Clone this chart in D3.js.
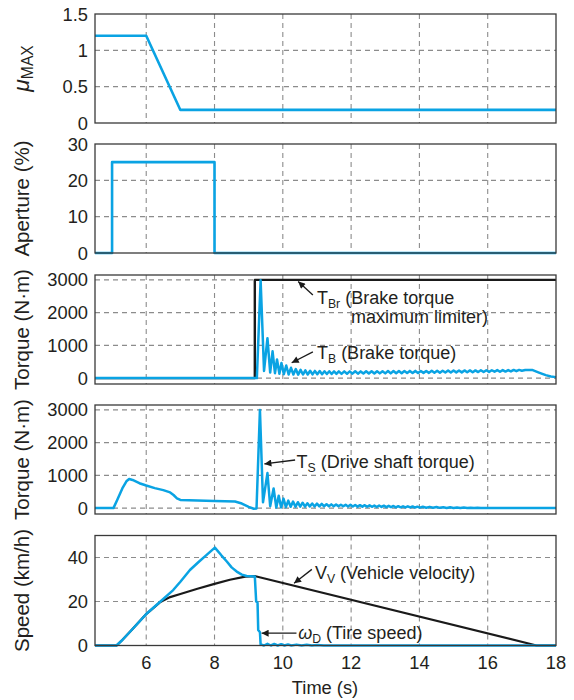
<!DOCTYPE html>
<html>
<head>
<meta charset="utf-8">
<script src="https://cdn.jsdelivr.net/npm/d3@7"></script>
<style>
body { margin: 0; background: #fff; }
text { font-family: "Liberation Sans", Arial, sans-serif; fill: #231f20; }
</style>
</head>
<body>
<svg id="chart" width="574" height="700"></svg>
<script>
// ---- data ----
var timeTicks = [6, 8, 10, 12, 14, 16, 18]
var timeGrid = [6, 8, 10, 12, 14, 16]

var muTicks = [0, 0.5, 1, 1.5]
var apTicks = [0, 10, 20, 30]
var torqueTicks = [0, 1000, 2000, 3000]
var speedTicks = [0, 20, 40]

// mu max
var muPts = [[4.5, 1.2], [6, 1.2], [7, 0.18], [18, 0.18]]

// aperture (%)
var aperturePts = [[4.5, 0], [5, 0], [5, 25], [8, 25], [8, 0], [18, 0]]

// brake torque maximum limiter
var tbrPts = [[4.5, 0], [9.18, 0], [9.18, 3000], [18, 3000]]

// brake torque
var tbPts = [[4.5,0],[9.24,0],[9.35,2990],[9.45,220],[9.55,1220],[9.63,170],[9.7,820],[9.77,150],[9.83,570],[9.9,130],
	[9.96,460],[10.03,120],[10.1,385],[10.17,110],[10.24,315],[10.31,110],[10.38,275],[10.45,105],[10.52,250],[10.59,110],
	[10.66,235],[10.73,110],[10.8,225],[10.87,115],[10.94,220],[11.01,120],[11.08,215],[11.15,120],[11.22,210],[11.29,125],
	[11.36,210],[11.43,125],[11.5,205],[11.57,130],[11.64,205],[11.72,130],[11.8,205],[11.88,135],[11.96,205],[12.04,135],
	[12.12,210],[12.2,135],[12.28,205],[12.36,140],[12.44,210],[12.52,140],[12.6,210],[12.68,140],[12.76,210],[12.84,145],
	[12.92,210],[13.0,145],[13.08,215],[13.16,145],[13.24,215],[13.32,150],[13.4,215],[13.48,150],[13.56,215],[13.64,155],
	[13.72,220],[13.8,155],[13.88,220],[13.96,155],[14.04,220],[14.12,160],[14.2,220],[14.28,160],[14.36,225],[14.44,165],
	[14.52,225],[14.6,165],[14.68,225],[14.76,170],[14.84,230],[14.92,170],[15.0,230],[15.08,175],[15.16,230],[15.24,175],
	[15.32,235],[15.4,180],[15.48,235],[15.56,180],[15.64,235],[15.72,185],[15.8,240],[15.88,185],[15.96,240],[16.04,190],
	[16.12,240],[16.2,195],[16.28,245],[16.36,195],[16.44,245],[16.52,200],[16.6,245],[16.68,205],[16.76,250],[16.84,210],
	[16.92,250],[17.0,225],[17.1,250],[17.3,250],[17.5,170],[17.7,90],[17.85,50],[18,30]]

// drive shaft torque
var tsPts = [[4.5,0],[5.04,0],[5.15,250],[5.3,600],[5.42,820],[5.5,890],[5.6,860],[5.8,760],[6.0,690],[6.25,610],
	[6.5,550],[6.7,480],[6.8,400],[6.9,300],[7.0,250],[7.5,235],[8.0,215],[8.6,200],[8.8,140],[9.0,40],[9.15,-20],[9.23,-10],
	[9.33,3000],[9.42,180],[9.55,1070],[9.63,60],[9.73,600],[9.81,20],[9.88,380],[9.95,20],[10.02,290],[10.09,30],
	[10.16,230],[10.23,40],[10.3,200],[10.37,40],[10.44,180],[10.51,45],[10.58,165],[10.65,45],[10.72,150],[10.79,50],
	[10.86,140],[10.93,50],[11.0,135],[11.07,55],[11.14,130],[11.21,55],[11.28,120],[11.35,55],[11.42,115],[11.49,55],
	[11.56,110],[11.63,55],[11.7,105],[11.77,55],[11.84,100],[11.91,50],[11.98,100],[12.05,50],[12.12,95],[12.19,45],
	[12.26,90],[12.33,45],[12.4,90],[12.47,40],[12.54,85],[12.61,40],[12.68,80],[12.75,35],[12.82,80],[12.89,35],
	[12.96,75],[13.03,30],[13.1,70],[13.17,30],[13.24,65],[13.31,25],[13.38,60],[13.45,25],[13.52,55],[13.59,20],
	[13.66,55],[13.73,20],[13.8,50],[13.87,15],[13.94,45],[14.01,15],[14.1,40],[14.2,12],[14.3,38],[14.4,10],
	[14.5,32],[14.6,8],[14.7,28],[14.8,6],[14.9,24],[15.0,5],[15.1,20],[15.2,4],[15.3,16],[15.4,3],
	[15.5,12],[15.6,2],[15.7,8],[15.8,1],[15.95,0],[18,0]]

// vehicle velocity
var vvPts = [[4.5,0],[5.13,0],[5.3,2.5],[5.6,7.5],[6.0,14.3],[6.4,19.6],[6.7,22],[7.0,23.4],[7.5,25.8],[8.0,28],
	[8.45,29.9],[8.9,31.3],[9.2,31.5],[17.43,0],[18,0]]

// tire speed
var wdPts = [[4.5,0],[5.13,0],[5.3,2.5],[5.6,7.5],[6.0,14.3],[6.4,19.8],[6.79,25.2],[7.0,29],[7.28,34.3],[7.55,38.2],
	[7.77,41.2],[8.01,44.5],[8.2,41],[8.36,38.2],[8.5,35.5],[8.65,33.6],[8.8,32.2],[8.94,31.6],[9.18,31.4],[9.22,20],
	[9.26,19.5],[9.28,7],[9.33,6],[9.35,0.5],[9.45,0],[9.55,0.8],[9.65,0],[9.75,0.7],[9.85,0],[9.95,0.6],[10.05,0],
	[10.15,0.5],[10.25,0],[10.4,0.4],[10.55,0],[10.7,0.3],[10.85,0],[11.0,0.2],[11.2,0],[18,0]]

// ---- layout ----
var blue = "#0aa3e3", dark = "#1a1a1a"
var fontSize = 18.3, titleSize = 20.5
var svg = d3.select("#chart")

var x = d3.scaleLinear().domain([4.5, 18]).range([95, 556])

var panels = [
	{ top: 14, bottom: 123, dom: [0, 1.5], ticks: muTicks, grid: [0.5, 1], fmt: d3.format("~g") },
	{ top: 144, bottom: 253, dom: [0, 30], ticks: apTicks, grid: [10, 20], fmt: d3.format("d") },
	{ top: 275, bottom: 384, dom: [-180, 3150], ticks: torqueTicks, grid: torqueTicks, fmt: d3.format("d") },
	{ top: 405, bottom: 514, dom: [-180, 3150], ticks: torqueTicks, grid: torqueTicks, fmt: d3.format("d") },
	{ top: 535.5, bottom: 645.5, dom: [0, 50], ticks: speedTicks, grid: [20, 40], fmt: d3.format("d") }
]
panels.forEach(p => { p.y = d3.scaleLinear().domain(p.dom).range([p.bottom, p.top]) })

svg.append("defs").append("marker")
	.attr("id", "arrow")
	.attr("viewBox", "0 0 10 10")
	.attr("refX", 10).attr("refY", 5)
	.attr("markerUnits", "userSpaceOnUse")
	.attr("markerWidth", 11).attr("markerHeight", 7)
	.attr("orient", "auto")
	.append("path").attr("d", "M0,0L10,5L0,10Z").attr("fill", dark)

var drawPanel = (p) => {
	var g = svg.append("g")
	// grid
	g.selectAll(".vg").data(timeGrid).enter().append("line")
		.attr("x1", d => x(d)).attr("x2", d => x(d))
		.attr("y1", p.top).attr("y2", p.bottom)
		.attr("stroke", "#8c8c8c").attr("stroke-width", 1.1).attr("stroke-dasharray", "5,4")
	g.selectAll(".hg").data(p.grid).enter().append("line")
		.attr("x1", x.range()[0]).attr("x2", x.range()[1])
		.attr("y1", d => p.y(d)).attr("y2", d => p.y(d))
		.attr("stroke", "#8c8c8c").attr("stroke-width", 1.1).attr("stroke-dasharray", "5,4")
	// y tick labels
	g.selectAll(".yt").data(p.ticks).enter().append("text")
		.attr("x", 88).attr("y", d => p.y(d)).attr("dy", "0.36em")
		.attr("text-anchor", "end").style("font-size", fontSize + "px")
		.text(p.fmt)
}

var drawFrame = (p) => {
	svg.append("rect")
		.attr("x", x.range()[0]).attr("y", p.top)
		.attr("width", x.range()[1] - x.range()[0]).attr("height", p.bottom - p.top)
		.attr("fill", "none").attr("stroke", "#3a3a3a").attr("stroke-width", 1.3)
}

var drawLine = (p, pts, color, w) => {
	var line = d3.line().x(d => x(d[0])).y(d => p.y(d[1]))
	svg.append("path").datum(pts)
		.attr("d", line).attr("fill", "none")
		.attr("stroke", color).attr("stroke-width", w)
		.attr("stroke-linejoin", "round")
}

panels.forEach(drawPanel)

drawLine(panels[0], muPts, blue, 2.6)
drawLine(panels[1], aperturePts, blue, 2.6)
drawLine(panels[2], tbrPts, dark, 2.4)
drawLine(panels[2], tbPts, blue, 2.5)
drawLine(panels[3], tsPts, blue, 2.5)
drawLine(panels[4], vvPts, dark, 2.2)
drawLine(panels[4], wdPts, blue, 2.5)

panels.forEach(drawFrame)

// x tick labels
svg.selectAll(".xt").data(timeTicks).enter().append("text")
	.attr("x", d => x(d)).attr("y", 662).attr("dy", "0.36em")
	.attr("text-anchor", "middle").style("font-size", fontSize + "px")
	.text(d => d)

svg.append("text")
	.attr("x", 325).attr("y", 687).attr("dy", "0.36em")
	.attr("text-anchor", "middle").style("font-size", fontSize + "px")
	.text("Time (s)")

// y axis titles
var yTitles = [
	[{ t: "\u03bc", italic: true }, { t: "MAX", sub: true }],
	[{ t: "Aperture (%)" }],
	[{ t: "Torque (N\u00b7m)" }],
	[{ t: "Torque (N\u00b7m)" }],
	[{ t: "Speed (km/h)" }]
]

var richText = (sel, parts, size) => {
	var shift = 0
	parts.forEach(pt => {
		var ts = sel.append("tspan").text(pt.t)
		var want = pt.sub ? 4 : 0
		ts.attr("dy", want - shift)
		shift = want
		ts.style("font-size", pt.sub ? (size * 0.68) + "px" : size + "px")
		if (pt.italic) ts.style("font-style", "italic")
	})
	return sel
}

panels.forEach((p, i) => {
	var cy = (p.top + p.bottom) / 2
	var t = svg.append("text")
		.attr("transform", "translate(22," + cy + ") rotate(-90)")
		.attr("text-anchor", "middle").attr("y", 7)
	richText(t, yTitles[i], i == 0 ? 23 : titleSize)
})

// annotations: [panel, tip t, tip v, tail t, tail v]
var arrows = [
	[2, 10.45, 2950, 10.88, 2540],
	[2, 10.26, 470, 10.88, 800],
	[3, 9.46, 1350, 10.36, 1470],
	[4, 10.33, 28.3, 10.85, 34.6],
	[4, 9.38, 5.6, 10.4, 5.6]
]
// labels: [panel, t, v, parts]
var labels = [
	[2, 11.0, 2450, [{ t: "T" }, { t: "Br", sub: true }, { t: " (Brake torque" }]],
	[2, 12.0, 1880, [{ t: "maximum limiter)" }]],
	[2, 11.0, 780, [{ t: "T" }, { t: "B", sub: true }, { t: " (Brake torque)" }]],
	[3, 10.4, 1420, [{ t: "T" }, { t: "S", sub: true }, { t: " (Drive shaft torque)" }]],
	[4, 10.94, 32.8, [{ t: "V" }, { t: "V", sub: true }, { t: " (Vehicle velocity)" }]],
	[4, 10.45, 5.5, [{ t: "\u03c9", italic: true }, { t: "D", sub: true }, { t: " (Tire speed)" }]]
]

arrows.forEach(a => {
	var p = panels[a[0]]
	svg.append("line")
		.attr("x1", x(a[3])).attr("y1", p.y(a[4]))
		.attr("x2", x(a[1])).attr("y2", p.y(a[2]))
		.attr("stroke", dark).attr("stroke-width", 1.3)
		.attr("marker-end", "url(#arrow)")
})

labels.forEach(l => {
	var p = panels[l[0]]
	var t = svg.append("text")
		.attr("x", x(l[1])).attr("y", p.y(l[2]) + 6)
	richText(t, l[3], 18)
})
</script>
</body>
</html>
